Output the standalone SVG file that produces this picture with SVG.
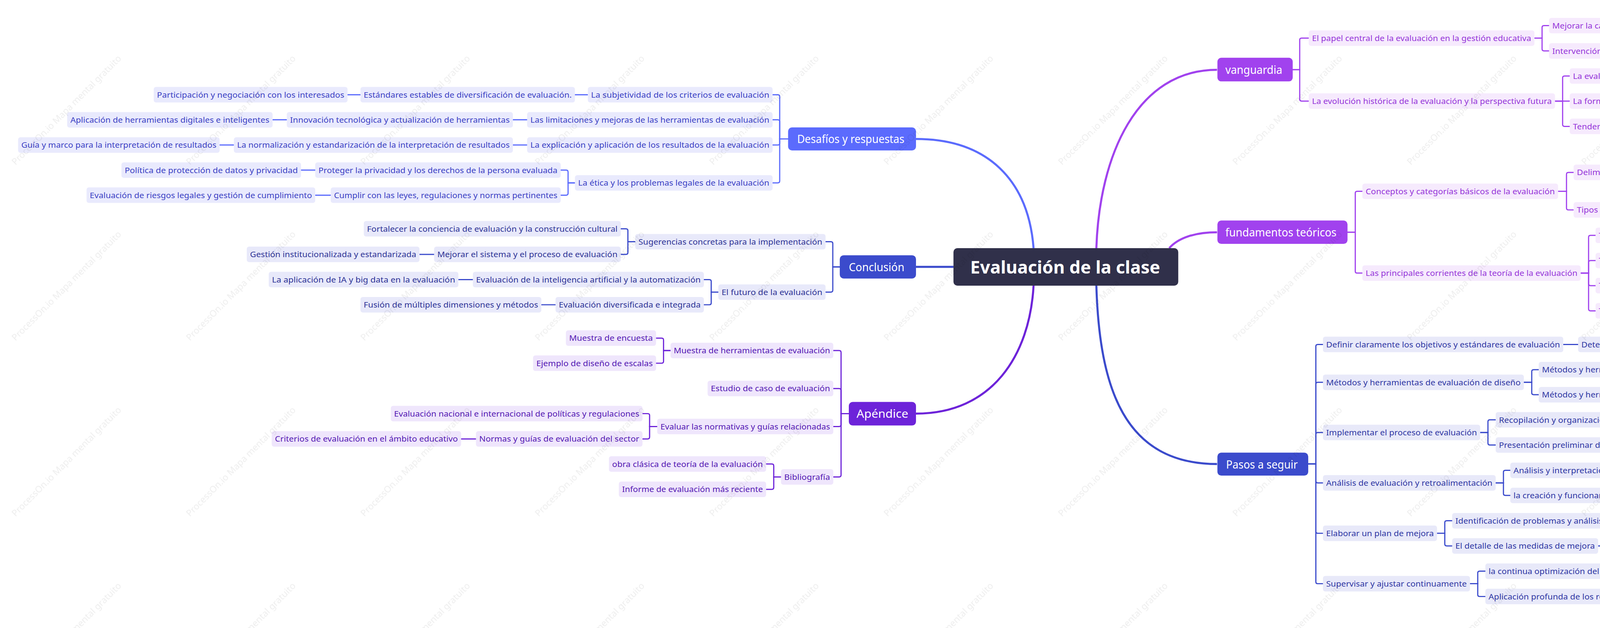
<svg xmlns="http://www.w3.org/2000/svg" width="5186" height="1607" viewBox="0 0 5186 1607">
<style>
text{font-family:"Noto Sans","Open Sans","Liberation Sans",sans-serif;}
.n text{font-size:6.2px;}
.d rect{fill:#e9eafd}.d text{fill:#3a40c4}
.c rect{fill:#e8e9fa}.c text{fill:#2c3296}
.a rect{fill:#efe6fc}.a text{fill:#5317b3}
.v rect{fill:#f6eafd}.v text{fill:#9534d9}
.p rect{fill:#e8e9f9}.p text{fill:#2d35a3}
.m text{font-size:9px;fill:#fff}
.k path{fill:none;stroke-width:0.9;stroke-linecap:round}
.kd path{stroke:#5b6bfd}.kc path{stroke:#3b4bcc}.ka path{stroke:#6d23d9}.kv path{stroke:#a142ee}.kp path{stroke:#3b4bcc}
.main path{fill:none;stroke-width:1.6}
.wm{font-size:7px;fill:#000;fill-opacity:0.07}
</style>
<defs>
<pattern id="wm" patternUnits="userSpaceOnUse" width="135" height="136">
<text class="wm" x="12" y="128" transform="rotate(-45 12 128)">ProcessOn.io Mapa mental gratuito</text>
</pattern>
</defs>
<rect width="5186" height="1607" fill="#fff"/>
<g transform="scale(3.3074)">
<g id="connectors">
<g class="main">
<path d="M709,107.5 C765,107.5 796,140 800,192" stroke="#5b6bfd"/>
<path d="M709,206.5 H738" stroke="#3b4bcc"/>
<path d="M709,320 C768,320 797,275 800,221" stroke="#6d23d9"/>
<path d="M942,54 C880,54 851,120 848.6,192" stroke="#a142ee"/>
<path d="M942,179.7 C925,179.7 912,184 905,192" stroke="#a142ee"/>
<path d="M942,359 C870,359 851,300 848.6,221" stroke="#3b4bcc"/>
</g>
<g class="k kd">
<path d="M610,107.5 H603.5 V74.8 Q603.5,73.3 602,73.3 H598"/>
<path d="M610,107.5 H603.5 V94.2 Q603.5,92.7 602,92.7 H598"/>
<path d="M610,107.5 H603.5 V110.7 Q603.5,112.2 602,112.2 H598"/>
<path d="M610,107.5 H603.5 V140 Q603.5,141.5 602,141.5 H598"/>
<path d="M445,141.5 H439.7 V133.1 Q439.7,131.6 438.2,131.6 H434"/>
<path d="M445,141.5 H439.7 V149.5 Q439.7,151 438.2,151 H434"/>
<path d="M455,73.3 H445 M279,73.3 H269 M408,92.7 H397 M222,92.7 H211 M408,112.2 H397 M181,112.2 H170 M244,131.6 H233 M256,151 H244"/>
</g>
<g class="k kc">
<path d="M650,206.5 H644.6 V188.5 Q644.6,187 643.1,187 H639"/>
<path d="M650,206.5 H644.6 V224.5 Q644.6,226 643.1,226 H639"/>
<path d="M491.7,187 H486 V178.5 Q486,177 484.5,177 H480.5"/>
<path d="M491.7,187 H486 V195.3 Q486,196.8 484.5,196.8 H480.5"/>
<path d="M556,226 H550.5 V217.8 Q550.5,216.3 549,216.3 H544.8"/>
<path d="M556,226 H550.5 V234.3 Q550.5,235.8 549,235.8 H544.8"/>
<path d="M336,196.8 H324.7 M366,216.3 H354.8 M430,235.8 H419"/>
</g>
<g class="k ka">
<path d="M657,320 H651 V272.7 Q651,271.2 649.5,271.2 H645"/>
<path d="M657,320 H651 V302.1 Q651,300.6 649.5,300.6 H645"/>
<path d="M657,320 H651 V328.5 Q651,330 649.5,330 H645"/>
<path d="M657,320 H651 V367.5 Q651,369 649.5,369 H645"/>
<path d="M519,271.2 H513.6 V263.1 Q513.6,261.6 512.1,261.6 H507.8"/>
<path d="M519,271.2 H513.6 V279.5 Q513.6,281 512.1,281 H507.8"/>
<path d="M508.7,330 H502.8 V321.5 Q502.8,320 501.3,320 H497.3"/>
<path d="M508.7,330 H502.8 V338.1 Q502.8,339.6 501.3,339.6 H497.3"/>
<path d="M604.5,369 H598.9 V360.5 Q598.9,359 597.4,359 H593"/>
<path d="M604.5,369 H598.9 V377.1 Q598.9,378.6 597.4,378.6 H593"/>
<path d="M368.4,339.6 H356.9"/>
</g>
<g class="k kv">
<path d="M1000.6,53.9 H1006 V31 Q1006,29.5 1007.5,29.5 H1013"/>
<path d="M1000.6,53.9 H1006 V76.7 Q1006,78.2 1007.5,78.2 H1013"/>
<path d="M1187.7,29.5 H1193.6 V21.3 Q1193.6,19.8 1195.1,19.8 H1199"/>
<path d="M1187.7,29.5 H1193.6 V37.9 Q1193.6,39.4 1195.1,39.4 H1199"/>
<path d="M1203.6,78.2 H1209.5 V60.3 Q1209.5,58.8 1211,58.8 H1215"/>
<path d="M1203.6,78.2 H1215"/>
<path d="M1203.6,78.2 H1209.5 V96.3 Q1209.5,97.8 1211,97.8 H1215"/>
<path d="M1043,179.7 H1049 V149.5 Q1049,148 1050.5,148 H1054.5"/>
<path d="M1043,179.7 H1049 V209.8 Q1049,211.3 1050.5,211.3 H1054.5"/>
<path d="M1206,148 H1212.5 V134.9 Q1212.5,133.4 1214,133.4 H1218"/>
<path d="M1206,148 H1212.5 V160.9 Q1212.5,162.4 1214,162.4 H1218"/>
<path d="M1346.7,133.4 H1352.6 V125.1 Q1352.6,123.6 1354.1,123.6 H1357.7"/>
<path d="M1346.7,133.4 H1352.6 V141.6 Q1352.6,143.1 1354.1,143.1 H1357.7"/>
<path d="M1223.5,211.3 H1229.6 V183.6 Q1229.6,182.1 1231.1,182.1 H1235"/>
<path d="M1223.5,211.3 H1229.6 V203.1 Q1229.6,201.6 1231.1,201.6 H1235"/>
<path d="M1223.5,211.3 H1229.6 V219.5 Q1229.6,221 1231.1,221 H1235"/>
<path d="M1223.5,211.3 H1229.6 V239 Q1229.6,240.5 1231.1,240.5 H1235"/>
</g>
<g class="k kp">
<path d="M1012.6,359 H1018.5 V268 Q1018.5,266.5 1020,266.5 H1024"/>
<path d="M1012.6,359 H1018.5 V297.3 Q1018.5,295.8 1020,295.8 H1024"/>
<path d="M1012.6,359 H1018.5 V336.1 Q1018.5,334.6 1020,334.6 H1024"/>
<path d="M1012.6,359 H1018.5 V372.1 Q1018.5,373.6 1020,373.6 H1024"/>
<path d="M1012.6,359 H1018.5 V411.1 Q1018.5,412.6 1020,412.6 H1024"/>
<path d="M1012.6,359 H1018.5 V450.1 Q1018.5,451.6 1020,451.6 H1024"/>
<path d="M1179.5,295.8 H1185.6 V287.5 Q1185.6,286 1187.1,286 H1191"/>
<path d="M1179.5,295.8 H1185.6 V303.9 Q1185.6,305.4 1187.1,305.4 H1191"/>
<path d="M1145.7,334.6 H1151.7 V326.3 Q1151.7,324.8 1153.2,324.8 H1157.7"/>
<path d="M1145.7,334.6 H1151.7 V342.8 Q1151.7,344.3 1153.2,344.3 H1157.7"/>
<path d="M1157.7,373.6 H1163.7 V365.4 Q1163.7,363.9 1165.2,363.9 H1169"/>
<path d="M1157.7,373.6 H1163.7 V381.8 Q1163.7,383.3 1165.2,383.3 H1169"/>
<path d="M1112.3,412.6 H1118.3 V404.4 Q1118.3,402.9 1119.8,402.9 H1124"/>
<path d="M1112.3,412.6 H1118.3 V420.9 Q1118.3,422.4 1119.8,422.4 H1124"/>
<path d="M1137.8,451.6 H1143.8 V443.4 Q1143.8,441.9 1145.3,441.9 H1149.7"/>
<path d="M1137.8,451.6 H1143.8 V460 Q1143.8,461.5 1145.3,461.5 H1149.7"/>
<path d="M1210,266.5 H1221.5 M1352,286 H1363.6 M1347.6,305.4 H1359 M1276.9,324.8 H1288.3 M1339,344.3 H1350.7 M1275.9,363.9 H1287.3 M1375,383.3 H1387 M1274.8,402.9 H1286.3 M1237,422.4 H1249 M1309.3,441.9 H1321.3"/>
</g>
</g>

<g id="center"><rect x="738" y="192" width="174" height="29" rx="3" fill="#30304a"/><text x="751" y="211.5" font-size="13.5" font-weight="bold" fill="#fff" textLength="147" lengthAdjust="spacingAndGlyphs">Evaluación de la clase</text></g>

<g id="desafios" class="m"><rect x="610" y="98.6" width="99" height="17.8" rx="3" fill="#5b6bfd"/><text x="617" y="110.8" textLength="83" lengthAdjust="spacingAndGlyphs">Desafíos y respuestas</text></g>
<g id="conclusion" class="m"><rect x="650" y="197.5" width="59" height="18" rx="3" fill="#3b4bcc"/><text x="657" y="209.8" textLength="43" lengthAdjust="spacingAndGlyphs">Conclusión</text></g>
<g id="apendice" class="m"><rect x="657" y="311" width="52" height="18.2" rx="3" fill="#6d23d9"/><text x="663" y="323.3" textLength="40" lengthAdjust="spacingAndGlyphs">Apéndice</text></g>
<g id="vanguardia" class="m"><rect x="942.3" y="44.7" width="58.3" height="18.3" rx="3" fill="#a142ee"/><text x="948.5" y="57" textLength="44" lengthAdjust="spacingAndGlyphs">vanguardia</text></g>
<g id="fundamentos" class="m"><rect x="942.3" y="170.6" width="100.7" height="18.1" rx="3" fill="#a142ee"/><text x="948.5" y="182.9" textLength="86" lengthAdjust="spacingAndGlyphs">fundamentos teóricos</text></g>
<g id="pasos" class="m"><rect x="942.3" y="350.2" width="70.3" height="17.8" rx="3" fill="#3b4bcc"/><text x="949" y="362.4" textLength="55.5" lengthAdjust="spacingAndGlyphs">Pasos a seguir</text></g>

<g class="n d">
<g id="d1"><rect x="455" y="67.3" width="143" height="12" rx="1.8"/><text x="457.5" y="75.5" textLength="138" lengthAdjust="spacingAndGlyphs">La subjetividad de los criterios de evaluación</text></g>
<g id="d1a"><rect x="279" y="67.3" width="166" height="12" rx="1.8"/><text x="281.5" y="75.5" textLength="161" lengthAdjust="spacingAndGlyphs">Estándares estables de diversificación de evaluación.</text></g>
<g id="d1b"><rect x="119" y="67.3" width="150" height="12" rx="1.8"/><text x="121.5" y="75.5" textLength="145" lengthAdjust="spacingAndGlyphs">Participación y negociación con los interesados</text></g>
<g id="d2"><rect x="408" y="86.7" width="190" height="12" rx="1.8"/><text x="410.5" y="94.9" textLength="185" lengthAdjust="spacingAndGlyphs">Las limitaciones y mejoras de las herramientas de evaluación</text></g>
<g id="d2a"><rect x="222" y="86.7" width="175" height="12" rx="1.8"/><text x="224.5" y="94.9" textLength="170" lengthAdjust="spacingAndGlyphs">Innovación tecnológica y actualización de herramientas</text></g>
<g id="d2b"><rect x="52" y="86.7" width="159" height="12" rx="1.8"/><text x="54.5" y="94.9" textLength="154" lengthAdjust="spacingAndGlyphs">Aplicación de herramientas digitales e inteligentes</text></g>
<g id="d3"><rect x="408" y="106.2" width="190" height="12" rx="1.8"/><text x="410.5" y="114.4" textLength="185" lengthAdjust="spacingAndGlyphs">La explicación y aplicación de los resultados de la evaluación</text></g>
<g id="d3a"><rect x="181" y="106.2" width="216" height="12" rx="1.8"/><text x="183.5" y="114.4" textLength="211" lengthAdjust="spacingAndGlyphs">La normalización y estandarización de la interpretación de resultados</text></g>
<g id="d3b"><rect x="14" y="106.2" width="156" height="12" rx="1.8"/><text x="16.5" y="114.4" textLength="151" lengthAdjust="spacingAndGlyphs">Guía y marco para la interpretación de resultados</text></g>
<g id="d4"><rect x="445" y="135.5" width="153" height="12" rx="1.8"/><text x="447.5" y="143.7" textLength="148" lengthAdjust="spacingAndGlyphs">La ética y los problemas legales de la evaluación</text></g>
<g id="d4a"><rect x="244" y="125.6" width="190" height="12" rx="1.8"/><text x="246.5" y="133.8" textLength="185" lengthAdjust="spacingAndGlyphs">Proteger la privacidad y los derechos de la persona evaluada</text></g>
<g id="d4a1"><rect x="94" y="125.6" width="139" height="12" rx="1.8"/><text x="96.5" y="133.8" textLength="134" lengthAdjust="spacingAndGlyphs">Política de protección de datos y privacidad</text></g>
<g id="d4b"><rect x="256" y="145" width="178" height="12" rx="1.8"/><text x="258.5" y="153.2" textLength="173" lengthAdjust="spacingAndGlyphs">Cumplir con las leyes, regulaciones y normas pertinentes</text></g>
<g id="d4b1"><rect x="67" y="145" width="177" height="12" rx="1.8"/><text x="69.5" y="153.2" textLength="172" lengthAdjust="spacingAndGlyphs">Evaluación de riesgos legales y gestión de cumplimiento</text></g>
</g>

<g class="n c">
<g id="c1"><rect x="491.7" y="181" width="147.3" height="12" rx="1.8"/><text x="494.2" y="189.2" textLength="142.3" lengthAdjust="spacingAndGlyphs">Sugerencias concretas para la implementación</text></g>
<g id="c1a"><rect x="281.6" y="171" width="198.9" height="12" rx="1.8"/><text x="284.1" y="179.2" textLength="193.9" lengthAdjust="spacingAndGlyphs">Fortalecer la conciencia de evaluación y la construcción cultural</text></g>
<g id="c1b"><rect x="336" y="190.8" width="144.5" height="12" rx="1.8"/><text x="338.5" y="199" textLength="139.5" lengthAdjust="spacingAndGlyphs">Mejorar el sistema y el proceso de evaluación</text></g>
<g id="c1b1"><rect x="191" y="190.8" width="133.7" height="12" rx="1.8"/><text x="193.5" y="199" textLength="128.7" lengthAdjust="spacingAndGlyphs">Gestión institucionalizada y estandarizada</text></g>
<g id="c2"><rect x="556" y="220" width="83" height="12" rx="1.8"/><text x="558.5" y="228.2" textLength="78" lengthAdjust="spacingAndGlyphs">El futuro de la evaluación</text></g>
<g id="c2a"><rect x="366" y="210.3" width="178.8" height="12" rx="1.8"/><text x="368.5" y="218.5" textLength="173.8" lengthAdjust="spacingAndGlyphs">Evaluación de la inteligencia artificial y la automatización</text></g>
<g id="c2a1"><rect x="208" y="210.3" width="146.8" height="12" rx="1.8"/><text x="210.5" y="218.5" textLength="141.8" lengthAdjust="spacingAndGlyphs">La aplicación de IA y big data en la evaluación</text></g>
<g id="c2b"><rect x="430" y="229.8" width="114.8" height="12" rx="1.8"/><text x="432.5" y="238" textLength="109.8" lengthAdjust="spacingAndGlyphs">Evaluación diversificada e integrada</text></g>
<g id="c2b1"><rect x="279" y="229.8" width="140" height="12" rx="1.8"/><text x="281.5" y="238" textLength="135" lengthAdjust="spacingAndGlyphs">Fusión de múltiples dimensiones y métodos</text></g>
</g>

<g class="n a">
<g id="a1"><rect x="519" y="265.2" width="126" height="12" rx="1.8"/><text x="521.5" y="273.4" textLength="121" lengthAdjust="spacingAndGlyphs">Muestra de herramientas de evaluación</text></g>
<g id="a1a"><rect x="438" y="255.6" width="69.8" height="12" rx="1.8"/><text x="440.5" y="263.8" textLength="64.8" lengthAdjust="spacingAndGlyphs">Muestra de encuesta</text></g>
<g id="a1b"><rect x="412.6" y="275" width="95.2" height="12" rx="1.8"/><text x="415.1" y="283.2" textLength="90.2" lengthAdjust="spacingAndGlyphs">Ejemplo de diseño de escalas</text></g>
<g id="a2"><rect x="547.7" y="294.6" width="97.3" height="12" rx="1.8"/><text x="550.2" y="302.8" textLength="92.3" lengthAdjust="spacingAndGlyphs">Estudio de caso de evaluación</text></g>
<g id="a3"><rect x="508.7" y="324" width="136.3" height="12" rx="1.8"/><text x="511.2" y="332.2" textLength="131.3" lengthAdjust="spacingAndGlyphs">Evaluar las normativas y guías relacionadas</text></g>
<g id="a3a"><rect x="302.5" y="314" width="194.8" height="12" rx="1.8"/><text x="305" y="322.2" textLength="189.8" lengthAdjust="spacingAndGlyphs">Evaluación nacional e internacional de políticas y regulaciones</text></g>
<g id="a3b"><rect x="368.4" y="333.6" width="128.9" height="12" rx="1.8"/><text x="370.9" y="341.8" textLength="123.9" lengthAdjust="spacingAndGlyphs">Normas y guías de evaluación del sector</text></g>
<g id="a3b1"><rect x="210.3" y="333.6" width="146.6" height="12" rx="1.8"/><text x="212.8" y="341.8" textLength="141.6" lengthAdjust="spacingAndGlyphs">Criterios de evaluación en el ámbito educativo</text></g>
<g id="a4"><rect x="604.5" y="363" width="40.5" height="12" rx="1.8"/><text x="607" y="371.2" textLength="35.5" lengthAdjust="spacingAndGlyphs">Bibliografía</text></g>
<g id="a4a"><rect x="471.3" y="353" width="121.7" height="12" rx="1.8"/><text x="473.8" y="361.2" textLength="116.7" lengthAdjust="spacingAndGlyphs">obra clásica de teoría de la evaluación</text></g>
<g id="a4b"><rect x="479" y="372.6" width="114" height="12" rx="1.8"/><text x="481.5" y="380.8" textLength="109" lengthAdjust="spacingAndGlyphs">Informe de evaluación más reciente</text></g>
</g>

<g class="n v">
<g id="v1"><rect x="1013" y="23.5" width="174.7" height="12" rx="1.8"/><text x="1015.5" y="31.7" textLength="169.7" lengthAdjust="spacingAndGlyphs">El papel central de la evaluación en la gestión educativa</text></g>
<g id="v1a"><rect x="1199" y="13.8" width="198" height="12" rx="1.8"/><text x="1201.5" y="22" textLength="193" lengthAdjust="spacingAndGlyphs">Mejorar la calidad de la enseñanza y la eficiencia administrativa</text></g>
<g id="v1b"><rect x="1199" y="33.4" width="220.6" height="12" rx="1.8"/><text x="1201.5" y="41.6" textLength="215.6" lengthAdjust="spacingAndGlyphs">Intervención para el desarrollo integral de la calidad de los estudiantes</text></g>
<g id="v2"><rect x="1013" y="72.2" width="190.6" height="12" rx="1.8"/><text x="1015.5" y="80.4" textLength="185.6" lengthAdjust="spacingAndGlyphs">La evolución histórica de la evaluación y la perspectiva futura</text></g>
<g id="v2a"><rect x="1215" y="52.8" width="152.7" height="12" rx="1.8"/><text x="1217.5" y="61" textLength="147.7" lengthAdjust="spacingAndGlyphs">La evaluación de la antigua filosofía y la práctica</text></g>
<g id="v2b"><rect x="1215" y="72.2" width="200" height="12" rx="1.8"/><text x="1217.5" y="80.4" textLength="195" lengthAdjust="spacingAndGlyphs">La formación y desarrollo de la teoría de la evaluación moderna</text></g>
<g id="v2c"><rect x="1215" y="91.8" width="142.7" height="12" rx="1.8"/><text x="1217.5" y="100" textLength="137.7" lengthAdjust="spacingAndGlyphs">Tendencias y desafíos en la evaluación futura</text></g>
<g id="f1"><rect x="1054.5" y="142" width="151.5" height="12" rx="1.8"/><text x="1057" y="150.2" textLength="146.5" lengthAdjust="spacingAndGlyphs">Conceptos y categorías básicos de la evaluación</text></g>
<g id="f1a"><rect x="1218" y="127.4" width="128.7" height="12" rx="1.8"/><text x="1220.5" y="135.6" textLength="123.7" lengthAdjust="spacingAndGlyphs">Delimitación y evaluación de los objetos</text></g>
<g id="f1a1"><rect x="1357.7" y="117.6" width="127.1" height="12" rx="1.8"/><text x="1360.2" y="125.8" textLength="122.1" lengthAdjust="spacingAndGlyphs">Evaluación amplia y evaluación estrecha</text></g>
<g id="f1a2"><rect x="1357.7" y="137.1" width="95.2" height="12" rx="1.8"/><text x="1360.2" y="145.3" textLength="90.2" lengthAdjust="spacingAndGlyphs">Evaluación absoluta y relativa</text></g>
<g id="f1b"><rect x="1218" y="156.4" width="122.7" height="12" rx="1.8"/><text x="1220.5" y="164.6" textLength="117.7" lengthAdjust="spacingAndGlyphs">Tipos y características de la evaluación</text></g>
<g id="f2"><rect x="1054.5" y="205.3" width="169" height="12" rx="1.8"/><text x="1057" y="213.5" textLength="164" lengthAdjust="spacingAndGlyphs">Las principales corrientes de la teoría de la evaluación</text></g>
<g id="f2a"><rect x="1235" y="176.1" width="134" height="12" rx="1.8"/><text x="1237.5" y="184.3" textLength="129" lengthAdjust="spacingAndGlyphs">Teoría de evaluación orientada a objetivos</text></g>
<g id="f2b"><rect x="1235" y="195.6" width="132" height="12" rx="1.8"/><text x="1237.5" y="203.8" textLength="127" lengthAdjust="spacingAndGlyphs">Teoría de evaluación orientada al proceso</text></g>
<g id="f2c"><rect x="1235" y="215" width="105.7" height="12" rx="1.8"/><text x="1237.5" y="223.2" textLength="100.7" lengthAdjust="spacingAndGlyphs">Teoría de la evaluación formativa</text></g>
<g id="f2d"><rect x="1235" y="234.5" width="94.7" height="12" rx="1.8"/><text x="1237.5" y="242.7" textLength="89.7" lengthAdjust="spacingAndGlyphs">Teoría de la evaluación crítica</text></g>
</g>

<g class="n p">
<g id="p1"><rect x="1024" y="260.5" width="186" height="12" rx="1.8"/><text x="1026.5" y="268.7" textLength="181" lengthAdjust="spacingAndGlyphs">Definir claramente los objetivos y estándares de evaluación</text></g>
<g id="p1a"><rect x="1221.5" y="260.5" width="210.9" height="12" rx="1.8"/><text x="1224" y="268.7" textLength="205.9" lengthAdjust="spacingAndGlyphs">Determinar el campo y las dimensiones específicas de la evaluación</text></g>
<g id="p2"><rect x="1024" y="289.8" width="155.5" height="12" rx="1.8"/><text x="1026.5" y="298" textLength="150.5" lengthAdjust="spacingAndGlyphs">Métodos y herramientas de evaluación de diseño</text></g>
<g id="p2a"><rect x="1191" y="280" width="161" height="12" rx="1.8"/><text x="1193.5" y="288.2" textLength="156" lengthAdjust="spacingAndGlyphs">Métodos y herramientas de evaluación cuantitativa</text></g>
<g id="p2a1"><rect x="1363.6" y="280" width="112.2" height="12" rx="1.8"/><text x="1366.1" y="288.2" textLength="107.2" lengthAdjust="spacingAndGlyphs">Encuesta y diseño de cuestionarios</text></g>
<g id="p2b"><rect x="1191" y="299.4" width="156.6" height="12" rx="1.8"/><text x="1193.5" y="307.6" textLength="151.6" lengthAdjust="spacingAndGlyphs">Métodos y herramientas de evaluación cualitativa</text></g>
<g id="p2b1"><rect x="1359" y="299.4" width="140.7" height="12" rx="1.8"/><text x="1361.5" y="307.6" textLength="135.7" lengthAdjust="spacingAndGlyphs">Casos de estudio y habilidades de entrevista</text></g>
<g id="p3"><rect x="1024" y="328.6" width="121.7" height="12" rx="1.8"/><text x="1026.5" y="336.8" textLength="116.7" lengthAdjust="spacingAndGlyphs">Implementar el proceso de evaluación</text></g>
<g id="p3a"><rect x="1157.7" y="318.8" width="119.2" height="12" rx="1.8"/><text x="1160.2" y="327" textLength="114.2" lengthAdjust="spacingAndGlyphs">Recopilación y organización de datos</text></g>
<g id="p3a1"><rect x="1288.3" y="318.8" width="98.7" height="12" rx="1.8"/><text x="1290.8" y="327" textLength="93.7" lengthAdjust="spacingAndGlyphs">Limpieza y validación de datos</text></g>
<g id="p3b"><rect x="1157.7" y="338.3" width="181.3" height="12" rx="1.8"/><text x="1160.2" y="346.5" textLength="176.3" lengthAdjust="spacingAndGlyphs">Presentación preliminar de los resultados de la evaluación</text></g>
<g id="p3b1"><rect x="1350.7" y="338.3" width="111.3" height="12" rx="1.8"/><text x="1353.2" y="346.5" textLength="106.3" lengthAdjust="spacingAndGlyphs">Elaboración de gráficos y informes</text></g>
<g id="p4"><rect x="1024" y="367.6" width="133.7" height="12" rx="1.8"/><text x="1026.5" y="375.8" textLength="128.7" lengthAdjust="spacingAndGlyphs">Análisis de evaluación y retroalimentación</text></g>
<g id="p4a"><rect x="1169" y="357.9" width="106.9" height="12" rx="1.8"/><text x="1171.5" y="366.1" textLength="101.9" lengthAdjust="spacingAndGlyphs">Análisis y interpretación de datos</text></g>
<g id="p4a1"><rect x="1287.3" y="357.9" width="146.2" height="12" rx="1.8"/><text x="1289.8" y="366.1" textLength="141.2" lengthAdjust="spacingAndGlyphs">Análisis estadístico y predicción de tendencias</text></g>
<g id="p4b"><rect x="1169" y="377.3" width="206" height="12" rx="1.8"/><text x="1171.5" y="385.5" textLength="201" lengthAdjust="spacingAndGlyphs">la creación y funcionamiento del mecanismo de retroalimentación</text></g>
<g id="p4b1"><rect x="1387" y="377.3" width="166.6" height="12" rx="1.8"/><text x="1389.5" y="385.5" textLength="161.6" lengthAdjust="spacingAndGlyphs">Retroalimentación inmediata y resúmenes periódicos</text></g>
<g id="p5"><rect x="1024" y="406.6" width="88.3" height="12" rx="1.8"/><text x="1026.5" y="414.8" textLength="83.3" lengthAdjust="spacingAndGlyphs">Elaborar un plan de mejora</text></g>
<g id="p5a"><rect x="1124" y="396.9" width="150.8" height="12" rx="1.8"/><text x="1126.5" y="405.1" textLength="145.8" lengthAdjust="spacingAndGlyphs">Identificación de problemas y análisis de causas</text></g>
<g id="p5a1"><rect x="1286.3" y="396.9" width="122.2" height="12" rx="1.8"/><text x="1288.8" y="405.1" textLength="117.2" lengthAdjust="spacingAndGlyphs">Análisis SWOT y diagrama de Ishikawa</text></g>
<g id="p5b"><rect x="1124" y="416.4" width="113" height="12" rx="1.8"/><text x="1126.5" y="424.6" textLength="108" lengthAdjust="spacingAndGlyphs">El detalle de las medidas de mejora</text></g>
<g id="p5b1"><rect x="1249" y="416.4" width="88.7" height="12" rx="1.8"/><text x="1251.5" y="424.6" textLength="83.7" lengthAdjust="spacingAndGlyphs">Plan de acción y calendario</text></g>
<g id="p6"><rect x="1024" y="445.6" width="113.8" height="12" rx="1.8"/><text x="1026.5" y="453.8" textLength="108.8" lengthAdjust="spacingAndGlyphs">Supervisar y ajustar continuamente</text></g>
<g id="p6a"><rect x="1149.7" y="435.9" width="159.6" height="12" rx="1.8"/><text x="1152.2" y="444.1" textLength="154.6" lengthAdjust="spacingAndGlyphs">la continua optimización del sistema de evaluación</text></g>
<g id="p6a1"><rect x="1321.3" y="435.9" width="154.6" height="12" rx="1.8"/><text x="1323.8" y="444.1" textLength="149.6" lengthAdjust="spacingAndGlyphs">la introducción de nuevas tecnologías y métodos</text></g>
<g id="p6b"><rect x="1149.7" y="455.5" width="171.1" height="12" rx="1.8"/><text x="1152.2" y="463.7" textLength="166.1" lengthAdjust="spacingAndGlyphs">Aplicación profunda de los resultados de la evaluación</text></g>
</g>
<rect width="1568" height="486" fill="url(#wm)"/>
</g>
</svg>
